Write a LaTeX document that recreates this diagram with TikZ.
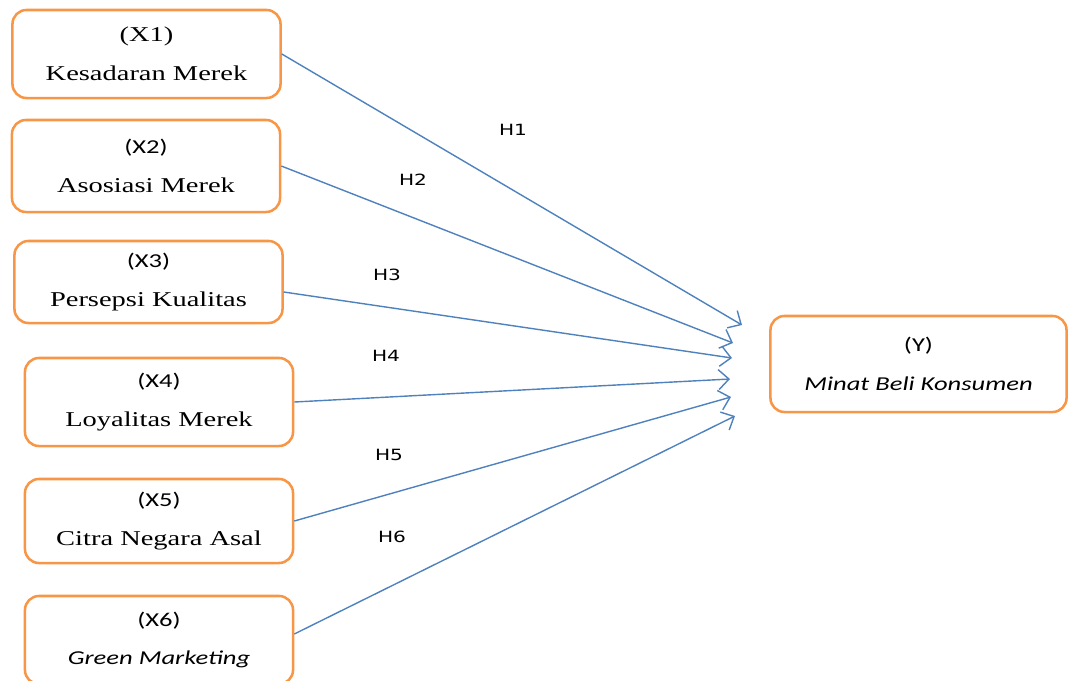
\documentclass[tikz,border=0pt]{standalone}
\usepackage{fontspec}
\setmainfont{Liberation Serif}[FakeStretch=1.35]
\newfontfamily\varfont{Carlito}[FakeStretch=1.35]
\newfontfamily\hypfont{DejaVu Sans}[FakeStretch=1.3]
\usetikzlibrary{arrows.meta}
\definecolor{boxorange}{RGB}{247,150,70}
\definecolor{linkblue}{RGB}{79,129,189}
\newcommand\vlab[1]{{\varfont\fontsize{14}{27.5}\selectfont #1}}
\newcommand\vital[1]{{\varfont\itshape\fontsize{14}{27.5}\selectfont #1}}

\begin{document}
\begin{tikzpicture}[x=0.025cm,y=-0.025cm,
  varbox/.style={draw=boxorange,line width=1.8pt,rounded corners=0.35cm,
    minimum width=6.7cm,minimum height=2.2cm,inner sep=0pt,align=center,
    font=\fontsize{15}{27.5}\selectfont},
  link/.style={draw=linkblue,line width=1pt,-{Straight Barb[length=2.6mm,width=5mm]}},
  hyp/.style={font=\hypfont\fontsize{11}{13}\selectfont}]
  \useasboundingbox (0,0) rectangle (1068,680);
  % variabel bebas
  \node[varbox] (x1) at (146.5,54) {(X1)\\Kesadaran Merek};
  \node[varbox,minimum height=2.3cm] (x2) at (146,166) {\vlab{(X2)}\\Asosiasi Merek};
  \node[varbox,minimum height=2.05cm] (x3) at (148.5,282) {\vlab{(X3)}\\Persepsi Kualitas};
  \node[varbox] (x4) at (159,402) {\vlab{(X4)}\\Loyalitas Merek};
  \node[varbox,minimum height=2.1cm] (x5) at (159,521) {\vlab{(X5)}\\Citra Negara Asal};
  \node[varbox] (x6) at (159,640) {\vlab{(X6)}\\\vital{Green Marketing}};
  % variabel terikat
  \node[varbox,minimum width=7.4cm,minimum height=2.4cm] (y) at (918.5,364) {\vlab{(Y)}\\\vital{Minat Beli Konsumen}};
  \coordinate (e1) at (742,325);
  \coordinate (e2) at (733,343);
  \coordinate (e3) at (732,358);
  \coordinate (e4) at (730,379);
  \coordinate (e5) at (731,397);
  \coordinate (e6) at (735,416);
  \draw[link] (x1.east) -- (e1);
  \draw[link] (x2.east) -- (e2);
  \draw[link] ([yshift=-0.25cm]x3.east) -- (e3);
  \draw[link] (x4.east) -- (e4);
  \draw[link] (x5.east) -- (e5);
  \draw[link] ([yshift=0.15cm]x6.east) -- (e6);
  % hipotesis
  \node[hyp] (h1) at (513,130) {H1};
  \node[hyp] (h2) at (413,180) {H2};
  \node[hyp] (h3) at (387,275) {H3};
  \node[hyp] (h4) at (386,356) {H4};
  \node[hyp] (h5) at (389,455) {H5};
  \node[hyp] (h6) at (392,537) {H6};
\end{tikzpicture}
\end{document}
